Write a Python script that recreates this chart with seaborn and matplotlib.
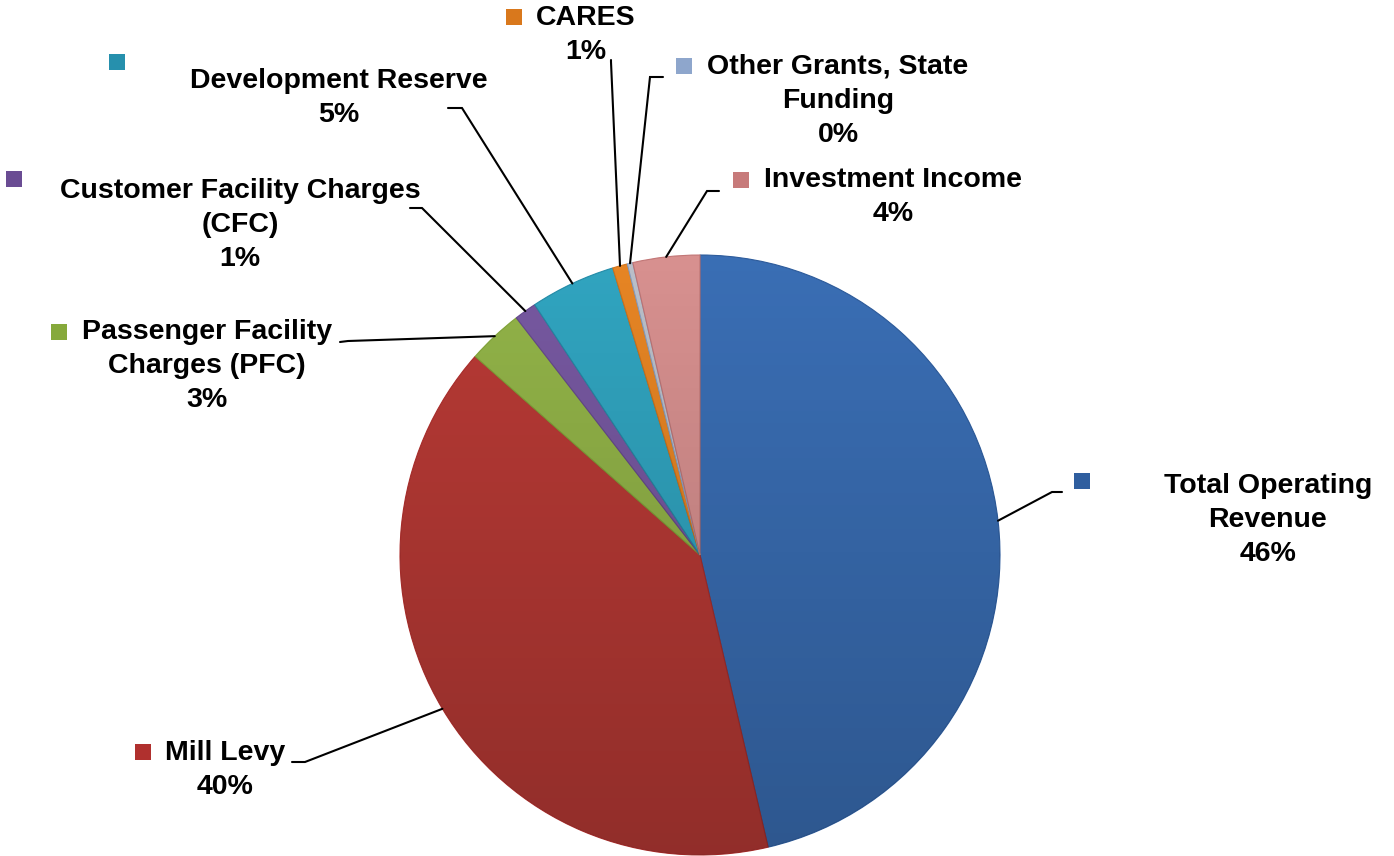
import numpy as np
import matplotlib
matplotlib.use("Agg")
import matplotlib.pyplot as plt
import seaborn as sns
from matplotlib.patches import Circle

# slice data, clockwise from 12 o'clock
categories = ['Total Operating\nRevenue', 'Mill Levy', 'Passenger Facility\nCharges (PFC)',
              'Customer Facility Charges\n(CFC)', 'Development Reserve', 'CARES',
              'Other Grants, State\nFunding', 'Investment Income']
shares = [46.4, 40.2, 3.0, 1.2, 4.6, 0.8, 0.3, 3.6]
colors = ['#3D74BE', '#C23D38', '#9ABD4C', '#7D5DA9', '#33ADCA', '#F38C26', '#C4CAD4', '#E39897']
marker_colors = ['#2F5E9F', '#B0302E', '#86A93B', '#6A4C93', '#2690AD', '#D9781C', '#8EA6CC', '#C77A7A']

sns.set_theme(style='white')
plt.rcParams['font.family'] = ['Liberation Sans', 'DejaVu Sans']

W, H = 1394, 856
CX, CY, R = 700, 555, 300   # pie centre / radius in pixels


def px(x, y):
    # pixel position (from top-left) -> data units of the pie axes
    return (x - CX) / R, (CY - y) / R


# label layout: block centre, marker position, leader elbow and end (pixels)
label_pos = [(1268, 520), (225, 770), (207, 366), (240, 225), (339, 98), (586, 35), (838, 101), (893, 197)]
marker_pos = [(1082, 481), (143, 752), (59, 332), (14, 179), (117, 62), (514, 17), (684, 66), (741, 180)]
elbows = [(1052, 492), (305, 762), (348, 341), (422, 208), (462, 108), (611, 62), (650, 77), (707, 191)]
ends = [(1062, 492), (292, 762), (340, 342), (410, 208), (448, 108), (611, 60), (663, 77), (719, 191)]

fig = plt.figure(figsize=(W / 100, H / 100), dpi=100)
ax = fig.add_axes([0, 0, 1, 1])

wedges, _ = ax.pie(shares, colors=colors, startangle=90, counterclock=False,
                   radius=1, center=(0, 0), frame=True,
                   wedgeprops=dict(linewidth=0.8))
for w, c in zip(wedges, marker_colors):
    w.set_edgecolor(c)

# soft top-to-bottom shading over the pie, clipped to the circle
shade = np.zeros((256, 1, 4))
t = np.linspace(0, 1, 256)[:, None]
shade[..., 3] = (0.05 + 0.20 * t)
im = ax.imshow(shade, extent=(-1, 1, -1, 1), origin='upper', aspect='auto', zorder=2,
               interpolation='bilinear')
im.set_clip_path(Circle((0, 0), 1, transform=ax.transData))

ax.set_xlim(px(0, 0)[0], px(W, 0)[0])
ax.set_ylim(px(0, H)[1], px(0, 0)[1])
ax.set_aspect('equal')
ax.axis('off')

total = sum(shares)
for i, w in enumerate(wedges):
    mid = np.deg2rad((w.theta1 + w.theta2) / 2)
    attach = (np.cos(mid), np.sin(mid))
    e = px(*elbows[i])
    t = px(*ends[i])
    ax.plot([attach[0], e[0], t[0]], [attach[1], e[1], t[1]], color='black', lw=1.5,
            solid_joinstyle='miter', zorder=3)

    lx, ly = px(*label_pos[i])
    pct = f'{shares[i] / total * 100:.0f}%'
    ax.text(lx, ly, f'{categories[i]}\n{pct}', ha='center', va='center', multialignment='center',
            fontsize=20.5, fontweight='bold', color='black', linespacing=1.4, zorder=4)

    mx, my = px(*marker_pos[i])
    ax.scatter([mx], [my], marker='s', s=120, color=marker_colors[i], edgecolor='none', zorder=4)

fig.savefig('out.png', dpi=100, facecolor='white')
